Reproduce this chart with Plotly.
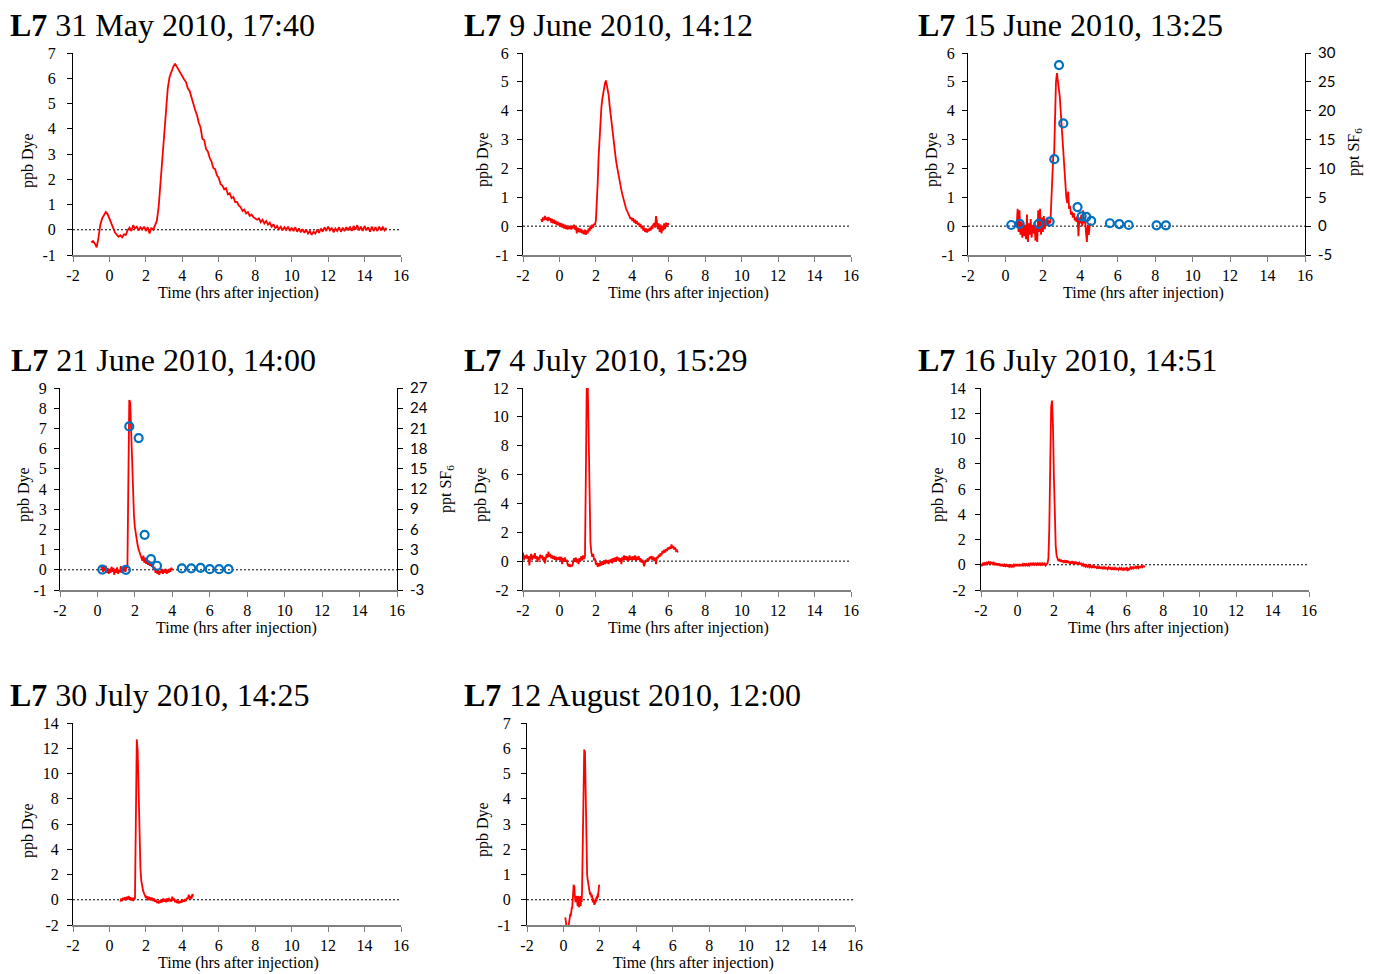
import numpy as np
import plotly.graph_objects as go

W, H = 1373, 974

# ---------------- data (ppb dye, sampled at regular time steps) ----------------
may31_t0, may31_dt = -1.0, 0.1
may31_dye = [
    -0.50, -0.45, -0.55, -0.70, -0.30, 0.20, 0.45, 0.55, 0.70, 0.62,
    0.45, 0.25, 0.05, -0.10, -0.20, -0.28, -0.22, -0.30, -0.18, -0.20,
    -0.02, 0.08, -0.05, 0.18, 0.05, 0.12, -0.03, 0.10, 0.02, 0.12,
    -0.05, 0.10, -0.15, 0.08, 0.00, 0.15, 0.35, 0.90, 1.90, 3.00,
    4.00, 4.90, 5.60, 6.05, 6.30, 6.45, 6.58, 6.45, 6.30, 6.20,
    6.05, 5.95, 5.85, 5.60, 5.50, 5.20, 5.00, 4.75, 4.55, 4.25,
    4.05, 3.60, 3.55, 3.20, 3.10, 2.85, 2.70, 2.45, 2.40, 2.15,
    2.05, 1.80, 1.75, 1.60, 1.65, 1.40, 1.45, 1.25, 1.30, 1.10,
    1.10, 0.95, 0.90, 0.75, 0.80, 0.65, 0.70, 0.55, 0.60, 0.50,
    0.45, 0.40, 0.45, 0.30, 0.40, 0.25, 0.35, 0.20, 0.28, 0.12,
    0.22, 0.05, 0.15, 0.02, 0.12, -0.02, 0.10, 0.00, 0.12, -0.05,
    0.08, -0.05, 0.10, -0.08, 0.05, -0.10, 0.02, -0.12, 0.00, -0.15,
    -0.05, -0.20, -0.08, -0.15, 0.00, -0.12, 0.05, -0.08, 0.10, -0.05,
    0.12, -0.02, 0.08, -0.10, 0.05, -0.05, 0.10, -0.08, 0.08, -0.05,
    0.10, -0.02, 0.12, -0.05, 0.15, 0.00, 0.18, -0.02, 0.12, -0.05,
    0.15, -0.02, 0.10, -0.08, 0.12, -0.05, 0.10, -0.05, 0.12, 0.00,
    0.10, -0.02, 0.08,
]

jun09_t0, jun09_dt = -1.0, 0.05
jun09_dye = [
    0.25, 0.15, 0.30, 0.20, 0.35, 0.22, 0.30, 0.18, 0.32, 0.20,
    0.28, 0.12, 0.25, 0.10, 0.22, 0.08, 0.18, 0.05, 0.15, 0.02,
    0.12, -0.02, 0.10, -0.05, 0.08, -0.08, 0.05, -0.10, 0.02, -0.12,
    0.00, -0.10, 0.02, -0.12, 0.00, -0.08, 0.05, -0.12, -0.02, -0.25,
    -0.05, -0.20, -0.08, -0.22, -0.10, -0.25, -0.15, -0.28, -0.12, -0.30,
    -0.15, -0.25, -0.08, -0.18, 0.02, -0.10, 0.05, -0.05, 0.08, 0.05,
    0.20, 0.70, 1.50, 2.40, 3.10, 3.90, 4.10, 4.40, 4.60, 4.85,
    4.95, 5.05, 4.90, 4.80, 4.55, 4.20, 3.90, 3.60, 3.30, 3.00,
    2.80, 2.55, 2.30, 2.10, 1.90, 1.70, 1.55, 1.40, 1.25, 1.10,
    0.95, 0.85, 0.70, 0.62, 0.55, 0.48, 0.40, 0.35, 0.25, 0.30,
    0.18, 0.28, 0.12, 0.22, 0.08, 0.18, 0.05, 0.12, -0.02, 0.08,
    -0.08, 0.02, -0.15, -0.05, -0.20, -0.08, -0.22, -0.10, -0.18, -0.05,
    -0.15, 0.00, -0.10, 0.05, 0.10, -0.05, 0.35, 0.15, -0.10, 0.10,
    -0.20, 0.05, -0.25, 0.02, -0.15, 0.10, -0.10, 0.12, -0.02, 0.10,
    0.05,
]

jun15_t0, jun15_dt = 0.6, 0.05
jun15_dye = [
    0.00, 0.60, -0.20, 0.55, -0.30, 0.15, -0.40, 0.10, -0.35, 0.05,
    -0.45, 0.40, -0.55, 0.10, -0.30, 0.25, -0.40, 0.05, -0.25, 0.15,
    -0.50, 0.00, -0.55, 0.55, -0.20, 0.60, -0.30, 0.30, -0.20, 0.35,
    -0.10, 0.20, 0.00, 0.25, 0.05, 0.20, 0.10, 1.00, 1.80, 2.40,
    2.50, 4.00, 5.00, 5.30, 5.05, 4.95, 4.50, 4.00, 3.50, 2.70,
    2.50, 1.90, 1.40, 1.00, 0.80, 1.20, 0.60, 0.70, 0.40, 0.50,
    0.30, 0.45, 0.20, 0.30, 0.15, 0.35, -0.35, 0.30, 0.10, 0.40,
    0.00, 0.55, 0.10, 0.30, -0.20, -0.55, 0.05, -0.30, 0.00, 0.10,
]
jun15_sf6_t = [0.31, 0.76, 1.77, 2.36, 2.61, 2.86, 3.09, 3.85, 4.07, 4.32, 4.58, 5.58, 6.08, 6.58, 8.07, 8.57]
jun15_sf6 = [0.2, 0.4, 0.4, 0.8, 11.6, 27.9, 17.8, 3.3, 1.7, 1.6, 0.9, 0.5, 0.35, 0.2, 0.15, 0.15]

jun21_t0, jun21_dt = 0.2, 0.05
jun21_dye = [
    0.05, 0.20, -0.10, 0.15, -0.05, 0.20, -0.15, 0.10, -0.20, 0.05,
    -0.15, 0.15, -0.10, 0.10, -0.25, 0.05, -0.15, 0.12, -0.20, 0.00,
    -0.12, 0.18, -0.15, 0.10, -0.08, 0.15, -0.10, 0.20, 0.10, 3.50,
    8.40, 8.30, 7.00, 5.20, 3.60, 2.70, 2.10, 1.70, 1.40, 1.20,
    1.00, 0.85, 0.70, 0.60, 0.45, 0.70, 0.35, 0.60, 0.30, 0.50,
    0.25, 0.45, 0.20, 0.40, 0.15, 0.30, 0.00, 0.15, -0.15, 0.05,
    -0.20, 0.00, -0.25, -0.05, -0.15, 0.05, -0.20, 0.00, -0.15, 0.05,
    -0.20, 0.00, -0.15, 0.05, -0.10, 0.10, 0.00,
]
jun21_sf6_t = [0.26, 1.52, 1.70, 2.20, 2.52, 2.86, 3.18, 4.51, 5.01, 5.51, 6.00, 6.50, 7.00]
jun21_sf6 = [0.03, 0.0, 21.3, 19.56, 5.2, 1.6, 0.6, 0.2, 0.2, 0.3, 0.1, 0.1, 0.1]

jul04_t0, jul04_dt = -2.0, 0.05
jul04_dye = [
    0.60, 0.10, 0.40, 0.20, 0.45, 0.15, 0.35, -0.30, 0.30, 0.50,
    0.10, 0.40, 0.20, 0.55, 0.15, 0.35, -0.05, 0.30, 0.10, 0.45,
    0.20, 0.40, 0.05, 0.30, -0.15, 0.35, 0.50, 0.25, 0.65, 0.30,
    0.50, 0.20, 0.40, 0.15, 0.35, 0.10, 0.30, 0.05, 0.25, 0.10,
    0.30, 0.05, 0.30, -0.20, 0.20, 0.00, 0.25, -0.05, 0.10, -0.25,
    -0.35, -0.20, -0.40, -0.25, -0.35, -0.10, 0.20, -0.05, 0.25, -0.10,
    0.15, -0.20, 0.20, 0.00, 0.35, 0.05, 0.40, 0.15, 0.30, 6.00,
    12.60, 12.40, 9.00, 4.50, 1.30, 0.60, 0.30, 0.50, 0.05, 0.20,
    -0.25, -0.10, -0.40, -0.15, -0.35, -0.05, -0.30, 0.00, -0.25, 0.05,
    -0.20, 0.10, -0.15, 0.05, -0.20, 0.10, -0.10, 0.15, -0.15, 0.20,
    -0.05, 0.25, 0.00, 0.30, 0.05, 0.25, -0.05, 0.20, -0.20, 0.30,
    0.05, 0.40, 0.10, 0.35, 0.05, 0.30, 0.00, 0.40, 0.10, 0.30,
    0.05, 0.35, 0.10, 0.40, 0.00, 0.30, 0.10, 0.35, 0.05, 0.20,
    -0.10, 0.10, -0.20, -0.35, -0.10, 0.10, -0.05, 0.20, 0.05, 0.30,
    0.15, 0.35, 0.10, 0.30, 0.00, 0.25, -0.20, 0.30, 0.20, 0.45,
    0.30, 0.55, 0.40, 0.70, 0.55, 0.80, 0.60, 0.85, 0.70, 0.95,
    0.80, 1.00, 0.85, 1.15, 0.90, 1.05, 0.80, 0.95, 0.70, 0.75,
    0.60,
]

jul16_t0, jul16_dt = -2.0, 0.05
jul16_dye = [
    0.00, -0.10, 0.15, -0.05, 0.20, 0.00, 0.15, 0.05, 0.20, 0.10,
    0.25, 0.05, 0.20, 0.05, 0.15, 0.00, 0.15, -0.05, 0.10, -0.05,
    0.10, -0.10, 0.05, -0.10, 0.05, -0.15, 0.00, -0.10, 0.05, -0.15,
    -0.05, -0.15, 0.00, -0.20, -0.05, -0.15, 0.00, -0.10, 0.05, -0.10,
    0.05, -0.10, 0.05, -0.10, 0.05, -0.10, 0.05, -0.05, 0.10, -0.05,
    0.05, -0.10, 0.05, -0.05, 0.10, 0.00, 0.15, -0.05, 0.10, 0.00,
    0.15, 0.00, 0.10, -0.05, 0.10, 0.00, 0.15, -0.05, 0.10, 0.00,
    0.10, -0.05, 0.05, 0.10, 0.50, 3.00, 8.00, 12.50, 13.00, 11.00,
    7.00, 3.50, 1.50, 0.70, 0.45, 0.30, 0.40, 0.25, 0.40, 0.20,
    0.35, 0.20, 0.30, 0.15, 0.35, 0.15, 0.30, 0.10, 0.25, 0.10,
    0.30, 0.05, 0.25, 0.10, 0.20, 0.05, 0.20, 0.00, 0.15, 0.05,
    0.10, -0.05, 0.05, -0.10, 0.00, -0.15, -0.05, -0.15, -0.05, -0.20,
    -0.10, -0.20, -0.10, -0.25, -0.10, -0.20, -0.15, -0.25, -0.15, -0.30,
    -0.15, -0.25, -0.20, -0.30, -0.20, -0.35, -0.20, -0.30, -0.25, -0.35,
    -0.20, -0.30, -0.25, -0.40, -0.25, -0.35, -0.25, -0.40, -0.25, -0.35,
    -0.30, -0.40, -0.25, -0.35, -0.25, -0.40, -0.30, -0.45, -0.25, -0.35,
    -0.20, -0.50, -0.25, -0.35, -0.20, -0.30, -0.15, -0.30, -0.20, -0.25,
    -0.15, -0.25, -0.10, -0.25, -0.15, -0.20, -0.10, -0.20, -0.10, -0.15,
    -0.10,
]

jul30_t0, jul30_dt = 0.6, 0.05
jul30_dye = [
    -0.15, 0.10, -0.10, 0.15, 0.00, 0.20, -0.05, 0.25, 0.00, 0.30,
    0.05, 0.20, -0.05, 0.15, -0.10, 0.10, 0.05, 6.50, 12.70, 11.80,
    8.00, 4.50, 2.50, 1.50, 0.90, 0.70, 0.50, 0.30, 0.15, 0.30,
    -0.05, 0.25, 0.00, 0.20, -0.05, 0.15, -0.10, 0.10, -0.15, 0.00,
    -0.25, -0.10, -0.30, -0.05, -0.25, 0.05, -0.20, 0.10, -0.15, 0.05,
    -0.20, 0.10, -0.15, 0.15, -0.10, 0.05, -0.15, 0.25, -0.05, 0.10,
    -0.20, 0.00, -0.25, -0.05, -0.30, -0.10, -0.25, -0.05, -0.20, 0.00,
    -0.15, 0.05, -0.10, 0.15, 0.05, 0.40, 0.10, 0.30, 0.05, 0.45,
    0.25,
]

aug12_t0, aug12_dt = 0.1, 0.02
aug12_dye = [
    -0.70, -0.75, -0.90, -1.10, -1.20, -1.10, -1.05, -1.15, -1.00, -1.05,
    -0.95, -0.80, -0.60, -0.75, -0.55, -0.65, -0.45, -0.50, -0.30, -0.35,
    -0.05, 0.10, 0.35, 0.60, 0.40, 0.55, 0.20, 0.00, -0.10, 0.10,
    -0.05, 0.15, -0.20, 0.10, -0.25, 0.15, -0.15, 0.10, -0.30, 0.10,
    -0.20, 0.15, -0.25, -0.10, -0.05, -0.05, 0.30, 1.20, 2.50, 3.80,
    4.90, 5.60, 5.95, 5.85, 5.90, 5.00, 3.60, 2.40, 1.60, 1.55,
    1.00, 0.85, 0.75, 0.65, 0.55, 0.40, 0.30, 0.35, 0.20, 0.30,
    0.15, 0.30, 0.10, 0.20, 0.00, 0.15, -0.10, 0.05, -0.15, 0.00,
    -0.20, -0.05, -0.15, 0.00, -0.10, 0.10, -0.05, 0.15, 0.05, 0.25,
    0.10, 0.30, 0.40, 0.60,
]

# ---------------- tick labels ----------------
x_tickvals = [-2, 0, 2, 4, 6, 8, 10, 12, 14, 16]
x_ticktext = ["-2", "0", "2", "4", "6", "8", "10", "12", "14", "16"]
y7_vals = [-1, 0, 1, 2, 3, 4, 5, 6, 7]
y6_vals = [-1, 0, 1, 2, 3, 4, 5, 6]
y9_vals = [-1, 0, 1, 2, 3, 4, 5, 6, 7, 8, 9]
y12_vals = [-2, 0, 2, 4, 6, 8, 10, 12]
y14_vals = [-2, 0, 2, 4, 6, 8, 10, 12, 14]
sf6_30_vals = [-5, 0, 5, 10, 15, 20, 25, 30]
sf6_27_vals = [-3, 0, 3, 6, 9, 12, 15, 18, 21, 24, 27]

titles = [
    "31 May 2010, 17:40", "9 June 2010, 14:12", "15 June 2010, 13:25",
    "21 June 2010, 14:00", "4 July 2010, 15:29", "16 July 2010, 14:51",
    "30 July 2010, 14:25", "12 August 2010, 12:00",
]
site = "L7"
x_label = "Time (hrs after injection)"
y_label = "ppb Dye"
y2_label = "ppt SF<sub>6</sub>"

# ---------------- layout geometry (pixels) ----------------
panels = [
    dict(dye=(may31_t0, may31_dt, may31_dye), box=(73, 401, 53, 255), yt=y7_vals, sto=8,
         title=(8, 25), ylab=(28, 160), xlab=(239, 293)),
    dict(dye=(jun09_t0, jun09_dt, jun09_dye), box=(523, 851, 53, 255), yt=y6_vals, sto=5,
         title=(462, 25), ylab=(483, 160), xlab=(689, 293)),
    dict(dye=(jun15_t0, jun15_dt, jun15_dye), box=(968, 1305, 53, 255), yt=y6_vals, sto=4,
         title=(916, 25), ylab=(932, 160), xlab=(1143, 293),
         sf6=(jun15_sf6_t, jun15_sf6), y2t=sf6_30_vals, y2lab=(1355, 152)),
    dict(dye=(jun21_t0, jun21_dt, jun21_dye), box=(60, 397, 388, 590), yt=y9_vals, sto=4,
         title=(9, 360), ylab=(24, 495), xlab=(236, 628),
         sf6=(jun21_sf6_t, jun21_sf6), y2t=sf6_27_vals, y2lab=(446, 489)),
    dict(dye=(jul04_t0, jul04_dt, jul04_dye), box=(523, 851, 388, 590), yt=y12_vals, sto=5,
         title=(462, 360), ylab=(481, 495), xlab=(689, 628)),
    dict(dye=(jul16_t0, jul16_dt, jul16_dye), box=(981, 1309, 388, 590), yt=y14_vals, sto=6,
         title=(916, 360), ylab=(938, 495), xlab=(1148, 628)),
    dict(dye=(jul30_t0, jul30_dt, jul30_dye), box=(73, 401, 723, 925), yt=y14_vals, sto=5,
         title=(8, 695), ylab=(28, 830), xlab=(239, 963)),
    dict(dye=(aug12_t0, aug12_dt, aug12_dye), box=(527, 855, 723, 925), yt=y7_vals, sto=7,
         title=(462, 695), ylab=(483, 830), xlab=(693, 963)),
]

SERIF = "Liberation Serif, Times New Roman, serif"
SANS = "Lato, Carlito, Liberation Sans, sans-serif"
RED = "#FF0000"
BLUE = "#0070C0"

fig = go.Figure()
layout = dict(
    template="none",
    width=W, height=H, margin=dict(l=0, r=0, t=0, b=0, pad=0, autoexpand=False),
    paper_bgcolor="white", plot_bgcolor="white", showlegend=False,
    annotations=[], shapes=[],
)


def px_x(p):
    return p / W


def px_y(p):
    return 1 - p / H


extra_axis = 9
for i, p in enumerate(panels, start=1):
    xa = "x" if i == 1 else f"x{i}"
    ya = "y" if i == 1 else f"y{i}"
    x0, x1, y0, y1 = p["box"]
    t0, dt, vals = p["dye"]
    t = t0 + dt * np.arange(len(vals))
    fig.add_trace(go.Scatter(x=t, y=vals, mode="lines", xaxis=xa, yaxis=ya,
                             line=dict(color=RED, width=1.8), hoverinfo="skip"))
    yt = p["yt"]
    layout[f"xaxis{'' if i == 1 else i}"] = dict(
        domain=[px_x(x0), px_x(x1)], anchor=ya, range=[-2, 16], automargin=False,
        tickvals=x_tickvals, ticktext=x_ticktext, ticks="outside", ticklen=5,
        tickcolor="#808080", tickwidth=1, showline=True, linecolor="#808080", linewidth=1.5,
        showgrid=False, zeroline=False, tickfont=dict(family=SERIF, size=16, color="black"),
        ticklabelstandoff=0, fixedrange=True,
    )
    layout[f"yaxis{'' if i == 1 else i}"] = dict(
        domain=[px_y(y1), px_y(y0)], anchor=xa, range=[yt[0], yt[-1]], automargin=False,
        tickvals=yt, ticktext=[str(v) for v in yt], ticks="outside", ticklen=5,
        tickcolor="black", tickwidth=1, showline=True, linecolor="black", linewidth=1,
        showgrid=False, zeroline=False, tickfont=dict(family=SERIF, size=16, color="black"),
        ticklabelstandoff=p["sto"], fixedrange=True,
    )
    # dotted zero line
    layout["shapes"].append(dict(type="line", xref=xa, yref=ya, x0=-2, x1=16, y0=0, y1=0,
                                 line=dict(color="black", width=1, dash="2px,2px"), layer="below"))
    if "sf6" in p:
        ya2 = f"y{extra_axis}"
        st, sv = p["sf6"]
        y2t = p["y2t"]
        fig.add_trace(go.Scatter(x=st, y=sv, mode="markers", xaxis=xa, yaxis=ya2,
                                 marker=dict(symbol="circle-open", size=8, color=BLUE,
                                             line=dict(width=2.2, color=BLUE)),
                                 hoverinfo="skip"))
        layout[f"yaxis{extra_axis}"] = dict(
            overlaying=ya, anchor=xa, side="right", range=[y2t[0], y2t[-1]], automargin=False,
            tickvals=y2t, ticktext=[str(v) for v in y2t], ticks="outside", ticklen=5,
            tickcolor="black", showline=True, linecolor="black", linewidth=1,
            showgrid=False, zeroline=False, tickfont=dict(family=SANS, size=15, color="black"),
            ticklabelstandoff=4, fixedrange=True,
        )
        lx, ly = p["y2lab"]
        layout["annotations"].append(dict(
            text=y2_label, xref="paper", yref="paper", x=px_x(lx), y=px_y(ly),
            xanchor="center", yanchor="middle", textangle=-90, showarrow=False,
            font=dict(family=SERIF, size=16, color="black")))
        extra_axis += 1

    tx, ty = p["title"]
    layout["annotations"].append(dict(
        text=f"<b>{site}</b> {titles[i - 1]}", xref="paper", yref="paper",
        x=px_x(tx), y=px_y(ty), xanchor="left", yanchor="middle", showarrow=False,
        font=dict(family=SERIF, size=32, color="black")))
    lx, ly = p["ylab"]
    layout["annotations"].append(dict(
        text=y_label, xref="paper", yref="paper", x=px_x(lx), y=px_y(ly),
        xanchor="center", yanchor="middle", textangle=-90, showarrow=False,
        font=dict(family=SERIF, size=16, color="black")))
    lx, ly = p["xlab"]
    layout["annotations"].append(dict(
        text=x_label, xref="paper", yref="paper", x=px_x(lx), y=px_y(ly),
        xanchor="center", yanchor="middle", showarrow=False,
        font=dict(family=SERIF, size=16, color="black")))

fig.update_layout(**layout)
fig.write_html("out.html", config={"displayModeBar": False})
